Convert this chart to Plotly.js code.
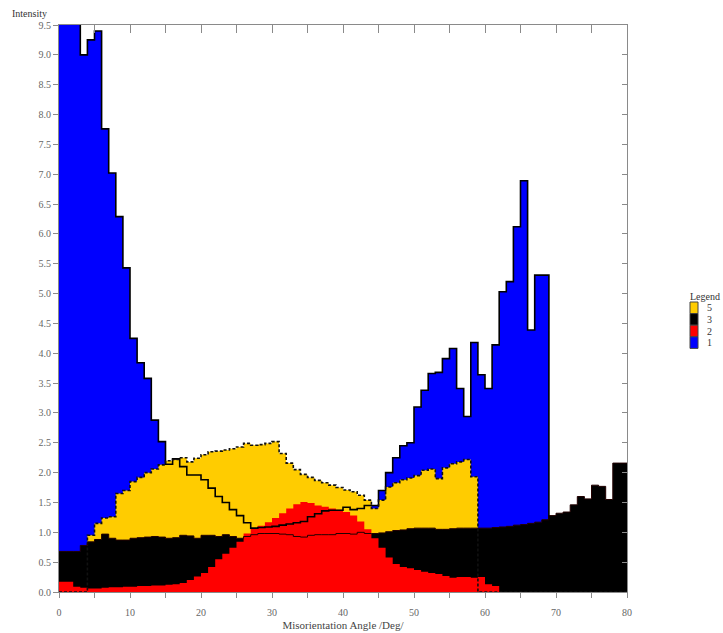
<!DOCTYPE html>
<html><head><meta charset="utf-8">
<script src="https://cdn.plot.ly/plotly-3.0.1.min.js"></script>
<style>html,body{margin:0;padding:0;background:#fff}#chart{width:723px;height:633px}</style>
</head><body><div id="chart"></div>
<script>
// Bin starts (degrees), 1 degree bins, last edge at 80
const binStart = [0,1,2,3,4,5,6,7,8,9,10,11,12,13,14,15,16,17,18,19,20,21,22,23,24,25,26,27,28,29,
  30,31,32,33,34,35,36,37,38,39,40,41,42,43,44,45,46,47,48,49,50,51,52,53,54,55,56,57,58,59,
  60,61,62,63,64,65,66,67,68,69,70,71,72,73,74,75,76,77,78,79];
const binEnd = 80;

// Series "1" (blue)
const intensity1 = [10.0,10.0,10.0,9.00,9.25,9.40,7.76,7.02,6.29,5.43,
  4.25,3.84,3.58,2.88,2.52,2.14,2.23,2.10,1.96,1.96,
  1.88,1.74,1.60,1.50,1.38,1.28,1.16,1.07,1.08,1.09,
  1.10,1.12,1.14,1.16,1.18,1.26,1.31,1.36,1.37,1.37,
  1.42,1.38,1.40,1.45,1.45,1.70,2.00,2.25,2.45,2.50,
  3.10,3.38,3.66,3.68,3.91,4.08,3.41,2.94,4.18,3.64,
  3.41,4.14,5.03,5.20,6.12,6.89,4.39,5.31,5.31,0,
  0,0,0,0,0,0,0,0,0,0];
// Series "5" (yellow)
const intensity5 = [0,0,0,0,0.95,1.15,1.24,1.26,1.65,1.70,
  1.85,1.92,2.00,2.06,2.13,2.20,2.22,2.25,2.18,2.24,
  2.30,2.35,2.36,2.38,2.40,2.43,2.49,2.46,2.47,2.49,
  2.52,2.32,2.16,2.05,1.97,1.92,1.87,1.83,1.79,1.75,
  1.71,1.68,1.62,1.54,1.40,1.54,1.76,1.83,1.88,1.91,
  1.95,2.04,2.06,1.90,2.08,2.15,2.18,2.22,1.93,0,
  0,0,0,0,0,0,0,0,0,0,
  0,0,0,0,0,0,0,0,0,0];
// Series "3" (black)
const intensity3 = [0.68,0.68,0.68,0.78,0.84,0.88,0.97,0.90,0.87,0.87,
  0.90,0.91,0.92,0.93,0.92,0.90,0.91,0.95,0.94,0.90,
  0.95,0.95,0.93,0.96,0.93,0.90,0.93,0.96,0.98,0.98,
  0.98,0.97,0.96,0.93,0.92,0.95,0.96,0.96,0.96,0.98,
  0.98,0.97,1.00,0.98,0.98,0.99,1.01,1.03,1.04,1.06,
  1.07,1.07,1.07,1.05,1.05,1.06,1.07,1.07,1.07,1.07,
  1.07,1.08,1.09,1.10,1.12,1.13,1.15,1.17,1.21,1.28,
  1.32,1.34,1.46,1.60,1.56,1.79,1.77,1.55,2.16,2.16];
// Series "2" (red)
const intensity2 = [0.17,0.17,0.09,0.07,0.06,0.06,0.07,0.08,0.08,0.09,
  0.09,0.10,0.10,0.11,0.11,0.12,0.13,0.15,0.20,0.26,
  0.32,0.42,0.55,0.64,0.74,0.84,0.98,1.07,1.11,1.17,
  1.24,1.32,1.40,1.47,1.51,1.49,1.45,1.43,1.40,1.38,
  1.34,1.28,1.18,1.05,0.90,0.74,0.58,0.47,0.42,0.40,
  0.37,0.34,0.32,0.30,0.27,0.24,0.25,0.25,0.24,0.25,
  0.13,0.10,0,0,0,0,0,0,0,0,
  0,0,0,0,0,0,0,0,0,0];

const seriesNames  = ['1','5','3','2'];
const seriesColors = ['#0000FF','#FFCC00','#000000','#FF0000'];
const seriesValues = [intensity1,intensity5,intensity3,intensity2];
const legendOrder  = ['5','3','2','1'];
const xTickVals = [0,10,20,30,40,50,60,70,80];
const xTickText = ['0','10','20','30','40','50','60','70','80'];

const stepX = binStart.concat([binEnd]);
const stepY = v => v.concat([v[v.length-1]]);

const traces = [];
// fills (back to front: 1, 5, 3, 2)
seriesValues.forEach((v,i)=>{
  traces.push({type:'scatter', mode:'lines', x:stepX, y:stepY(v), name:seriesNames[i],
    line:{shape:'hv', width:0, color:seriesColors[i]}, fill:'tozeroy', fillcolor:seriesColors[i],
    showlegend:false, hoverinfo:'skip'});
});
// outlines on top
const outlineStyles = [
  {color:'#000000', width:1.6},
  {color:'#111111', width:1.6, dash:'3px,2px'},
  {color:'#220000', width:1}
];
[0,1,2].forEach(i=>{
  traces.push({type:'scatter', mode:'lines', x:stepX, y:stepY(seriesValues[i]),
    line:Object.assign({shape:'hv'}, outlineStyles[i]), showlegend:false, hoverinfo:'skip'});
});
// dummy for the mirrored axes
traces.push({type:'scatter', x:[null], y:[null], xaxis:'x2', yaxis:'y2', showlegend:false, hoverinfo:'skip'});

const L=59, R=627, T=25, B=592;
const fx = px => (px-L)/(R-L);
const fy = py => (B-py)/(B-T);
const serif = 'Liberation Serif, Times New Roman, serif';
const axColor = '#8a8a8a';

const shapes = [];
const annotations = [];
legendOrder.forEach((nm,k)=>{
  const i = seriesNames.indexOf(nm);
  const top = 302 + k*11.6;
  shapes.push({type:'rect', xref:'paper', yref:'paper', x0:fx(690), x1:fx(698), y0:fy(top+11.6), y1:fy(top),
    fillcolor:seriesColors[i], line:{color:'#444', width:1}});
  annotations.push({xref:'paper', yref:'paper', x:fx(705), y:fy(top+5.8), xanchor:'left', yanchor:'middle',
    text:nm, showarrow:false, font:{family:serif, size:10, color:'#333'}});
});
annotations.push({xref:'paper', yref:'paper', x:fx(688), y:fy(296), xanchor:'left', yanchor:'middle',
  text:'Legend', showarrow:false, font:{family:serif, size:10, color:'#333'}});
annotations.push({xref:'paper', yref:'paper', x:fx(10), y:fy(14), xanchor:'left', yanchor:'middle',
  text:'Intensity', showarrow:false, font:{family:serif, size:10, color:'#333'}});

const layout = {
  width:723, height:633,
  margin:{l:L, r:723-R, t:T, b:633-B, pad:0},
  paper_bgcolor:'#fff', plot_bgcolor:'#fff',
  showlegend:false,
  font:{family:serif, size:10, color:'#555'},
  xaxis:{range:[0,80], tickvals:xTickVals, ticktext:xTickText, ticks:'outside', ticklen:5, tickcolor:axColor,
    minor:{dtick:5, tick0:0, ticks:'outside', ticklen:5, tickcolor:axColor},
    showline:true, linecolor:axColor, linewidth:1, showgrid:false, zeroline:false,
    ticklabelstandoff:6,
    tickfont:{family:serif, size:10, color:'#666'},
    title:{text:'Misorientation Angle /Deg/', font:{family:serif, size:11, color:'#444'}, standoff:4}},
  yaxis:{range:[0,9.5], dtick:0.5, tick0:0, tickformat:'.1f', ticks:'outside', ticklen:5, tickcolor:axColor,
    showline:true, linecolor:axColor, linewidth:1, showgrid:false, zeroline:false,
    tickfont:{family:serif, size:10, color:'#666'}},
  xaxis2:{overlaying:'x', side:'top', range:[0,80], dtick:5, tick0:0, ticks:'inside', ticklen:8, tickcolor:axColor,
    showticklabels:false, showline:true, linecolor:axColor, showgrid:false, zeroline:false},
  yaxis2:{overlaying:'y', side:'right', range:[0,9.5], dtick:0.5, tick0:0, ticks:'inside', ticklen:5, tickcolor:axColor,
    showticklabels:false, showline:true, linecolor:axColor, showgrid:false, zeroline:false},
  shapes:shapes, annotations:annotations
};
Plotly.newPlot('chart', traces, layout, {displayModeBar:false, staticPlot:true});
</script></body></html>
